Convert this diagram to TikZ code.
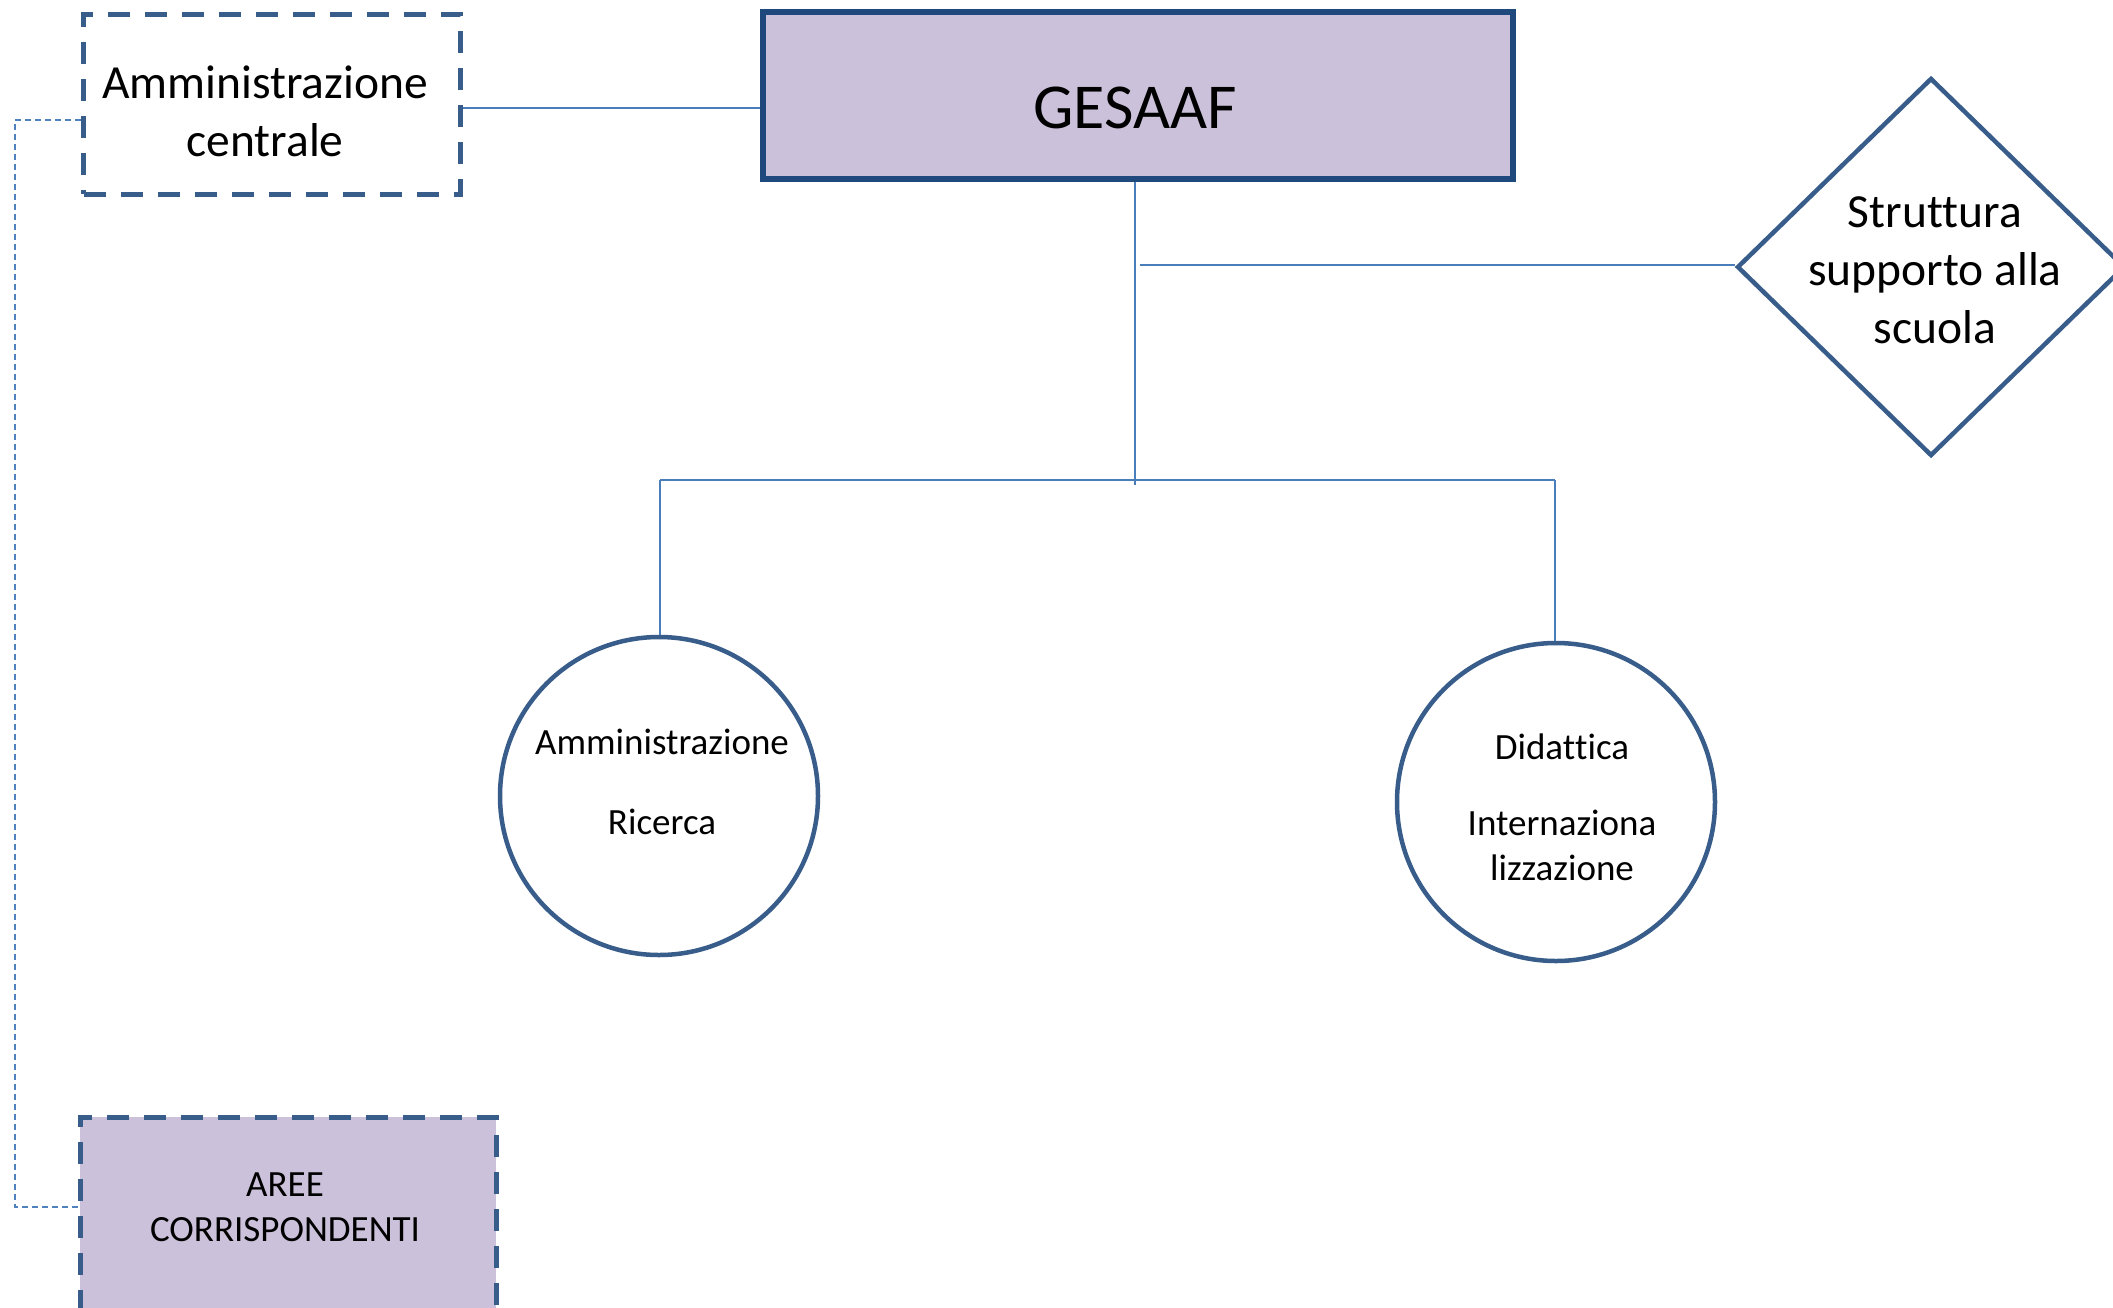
\documentclass[tikz,border=0pt]{standalone}
\usepackage{fontspec}
\setmainfont[Ligatures={NoCommon,NoContextual}, RawFeature={-liga;-clig;-calt;-dlig}]{Carlito}
\usetikzlibrary{shapes.geometric}
\definecolor{gesb}{HTML}{1F497D}
\definecolor{shapeb}{HTML}{385D8A}
\definecolor{lav}{HTML}{CCC1DA}
\definecolor{connc}{HTML}{4A7EBB}
\definecolor{dotc}{HTML}{4F81BD}
\newcommand{\nolig}{\kern0pt}
\tikzset{
  conn/.style={draw=connc, line width=2pt},
  dotconn/.style={draw=dotc, line width=1.6pt, dash pattern=on 6pt off 4pt},
  dbox/.style={draw=shapeb, line width=5pt, dash pattern=on 22pt off 15pt, rectangle, inner sep=0pt},
  circ/.style={draw=shapeb, line width=4.5pt, circle, fill=white, inner sep=0pt, minimum size=318pt},
  bigtxt/.style={font=\fontsize{47.5pt}{58pt}\selectfont, align=center, inner sep=0pt},
  smalltxt/.style={font=\fontsize{37pt}{45pt}\selectfont, align=center, inner sep=0pt},
}
\begin{document}
\begin{tikzpicture}[x=1pt,y=-1pt]
\useasboundingbox (0,0) rectangle (2113,1307);
\fill[white] (0,0) rectangle (2113,1307);
\clip (0,0) rectangle (2113,1307);

% nodes
\node[dbox, minimum width=377pt, minimum height=180pt] (adm) at (272,104) {};
\node[bigtxt] (admt) at (265,111) {Amministrazione\\centrale};
\node[draw=gesb, line width=6pt, fill=lav, rectangle, minimum width=750pt, minimum height=167pt] (ges) at (1138,95.5) {};
\node[font=\fontsize{64pt}{70pt}\selectfont, inner sep=0pt] (gest) at (1135,108) {GESAAF};

\node[diamond, draw=shapeb, line width=4.5pt, minimum width=388pt, minimum height=378pt, inner sep=0pt] (str) at (1931,267) {};
\node[bigtxt] (strt) at (1935,270) {Strut\nolig tura\\supporto alla\\scuola};

\node[circ] (c1) at (659,796) {};
\node[circ] (c2) at (1556,802) {};
\node[smalltxt] (c1a) at (662,742) {Amministrazione};
\node[smalltxt] (c1b) at (662,822) {Ricerca};
\node[smalltxt] (c2a) at (1562,747) {Didat\nolig tica};
\node[smalltxt] (c2b) at (1562,845) {Internaziona\\lizzazione};

\node[dbox, fill=lav, minimum width=416pt, minimum height=290pt] (aree) at (288,1262) {};
\node[smalltxt] (areet) at (285,1207) {AREE\\CORRISPONDENTI};

% connectors
\coordinate (bus) at (1135,485);
\coordinate (busL) at (660,480);
\coordinate (busR) at (1555,480);
\draw[conn] ([yshift=-4pt]adm.east) -- ([yshift=-4pt]adm.east -| ges.west);
\draw[conn] (ges.south -| bus) -- (bus);
\draw[conn] (1140,265) coordinate (sb) -- (sb -| str.west);
\draw[conn] (busL) -- (busR);
\draw[conn] (busL) -- (c1.north -| busL);
\draw[conn] (busR) -- (c2.north -| busR);
\coordinate (dl) at (15,120);
\coordinate (dl2) at (15,1207);
\draw[dotconn] (adm.west |- dl) -- (dl) -- (dl2) -- (dl2 -| aree.west);
\end{tikzpicture}
\end{document}
